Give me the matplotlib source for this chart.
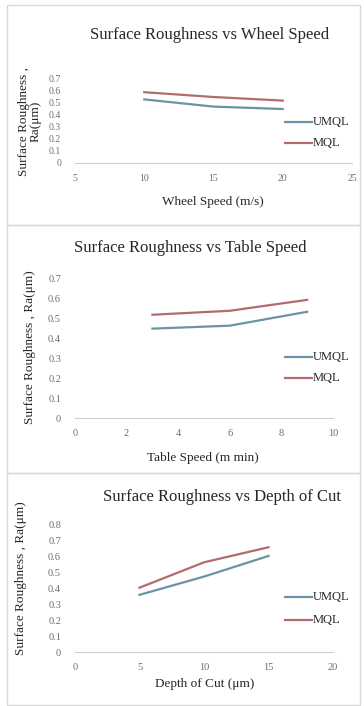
import matplotlib
matplotlib.use("Agg")
import matplotlib.pyplot as plt
from matplotlib.lines import Line2D
from matplotlib.patches import Rectangle

# data
wheel_speed = [10, 15, 20]
wheel_umql = [0.53, 0.47, 0.45]
wheel_mql = [0.59, 0.55, 0.52]

table_speed = [3, 6, 9]
table_umql = [0.45, 0.465, 0.535]
table_mql = [0.52, 0.54, 0.595]

depth_cut = [5, 10, 15]
depth_umql = [0.36, 0.475, 0.605]
depth_mql = [0.405, 0.565, 0.66]

UMQL_COLOR = "#6b93a6"
MQL_COLOR = "#b36b6d"
TEXT = "#262626"
TICK = "#6e6e6e"

W, H = 364, 706
plt.rcParams["font.family"] = ["Liberation Serif", "DejaVu Serif"]

fig = plt.figure(figsize=(W / 100, H / 100), dpi=100)
fig.patch.set_facecolor("white")


def fx(px):
    return px / W


def fy(py):
    return 1 - py / H


# panel frames
for top, bottom in [(5, 225), (225, 473), (473, 705)]:
    fig.patches.append(Rectangle((fx(7), fy(bottom)), fx(353), (bottom - top) / H,
                                 transform=fig.transFigure, fill=False,
                                 edgecolor="#d9d9d9", linewidth=1.0))

panels = [
    dict(x=wheel_speed, u=wheel_umql, m=wheel_mql, xlim=(5, 25), xticks=[5, 10, 15, 20, 25],
         ylim=(0, 0.7), yticks=[0, 0.1, 0.2, 0.3, 0.4, 0.5, 0.6, 0.7],
         px=(75, 352), py=(79, 163), title="Surface Roughness vs Wheel Speed", tpos=(210, 35),
         xlabel="Wheel Speed (m/s)", xlpos=(213, 202), leg=(285, 122, 143), tick_fs=7,
         ylabel="Surface Roughness ,\nRa(μm)", ylpos=(30, 121), yl_fs=9.5),
    dict(x=table_speed, u=table_umql, m=table_mql, xlim=(0, 10), xticks=[0, 2, 4, 6, 8, 10],
         ylim=(0, 0.7), yticks=[0, 0.1, 0.2, 0.3, 0.4, 0.5, 0.6, 0.7],
         px=(75, 333), py=(279, 418), title="Surface Roughness vs Table Speed", tpos=(190, 248),
         xlabel="Table Speed (m min)", xlpos=(203, 458), leg=(285, 357, 378), tick_fs=7.5,
         ylabel="Surface Roughness , Ra(μm)", ylpos=(30, 347), yl_fs=9.5),
    dict(x=depth_cut, u=depth_umql, m=depth_mql, xlim=(0, 20), xticks=[0, 5, 10, 15, 20],
         ylim=(0, 0.8), yticks=[0, 0.1, 0.2, 0.3, 0.4, 0.5, 0.6, 0.7, 0.8],
         px=(75, 333), py=(525, 652), title="Surface Roughness vs Depth of Cut", tpos=(222, 497),
         xlabel="Depth of Cut (μm)", xlpos=(205, 684), leg=(285, 597, 620), tick_fs=7.5,
         ylabel="Surface Roughness , Ra(μm)", ylpos=(21, 578), yl_fs=9.5),
]

for p in panels:
    x0, x1 = p["px"]
    y0, y1 = p["py"]
    ax = fig.add_axes([fx(x0), fy(y1), (x1 - x0) / W, (y1 - y0) / H])
    ax.set_facecolor("none")
    ax.plot(p["x"], p["u"], color=UMQL_COLOR, linewidth=1.6, label="UMQL")
    ax.plot(p["x"], p["m"], color=MQL_COLOR, linewidth=1.6, label="MQL")
    ax.set_xlim(*p["xlim"])
    ax.set_ylim(*p["ylim"])
    ax.set_xticks(p["xticks"])
    ax.set_yticks(p["yticks"])
    ax.set_yticklabels(["{:g}".format(round(v, 1)) for v in p["yticks"]])
    for s in ["top", "right", "left"]:
        ax.spines[s].set_visible(False)
    ax.spines["bottom"].set_color("#d0d0d0")
    ax.tick_params(length=0, labelsize=p["tick_fs"], colors=TICK, pad=8)
    ax.tick_params(axis="y", pad=10)

    fig.text(fx(p["tpos"][0]), fy(p["tpos"][1]), p["title"], ha="center", va="center",
             fontsize=12, color=TEXT)
    fig.text(fx(p["xlpos"][0]), fy(p["xlpos"][1]), p["xlabel"], ha="center", va="center",
             fontsize=9.5, color=TEXT)
    fig.text(fx(p["ylpos"][0]), fy(p["ylpos"][1]), p["ylabel"], ha="center", va="center",
             rotation=90, fontsize=p["yl_fs"], color=TEXT, linespacing=1.0)

    lx, ly_u, ly_m = p["leg"]
    for ly, col, name in [(ly_u, UMQL_COLOR, "UMQL"), (ly_m, MQL_COLOR, "MQL")]:
        fig.lines.append(Line2D([fx(lx), fx(lx + 27)], [fy(ly), fy(ly)],
                                transform=fig.transFigure, color=col, linewidth=1.6))
        fig.text(fx(lx + 28), fy(ly), name, ha="left", va="center", fontsize=9, color=TEXT)

fig.savefig("out.png", dpi=100, facecolor="white")
